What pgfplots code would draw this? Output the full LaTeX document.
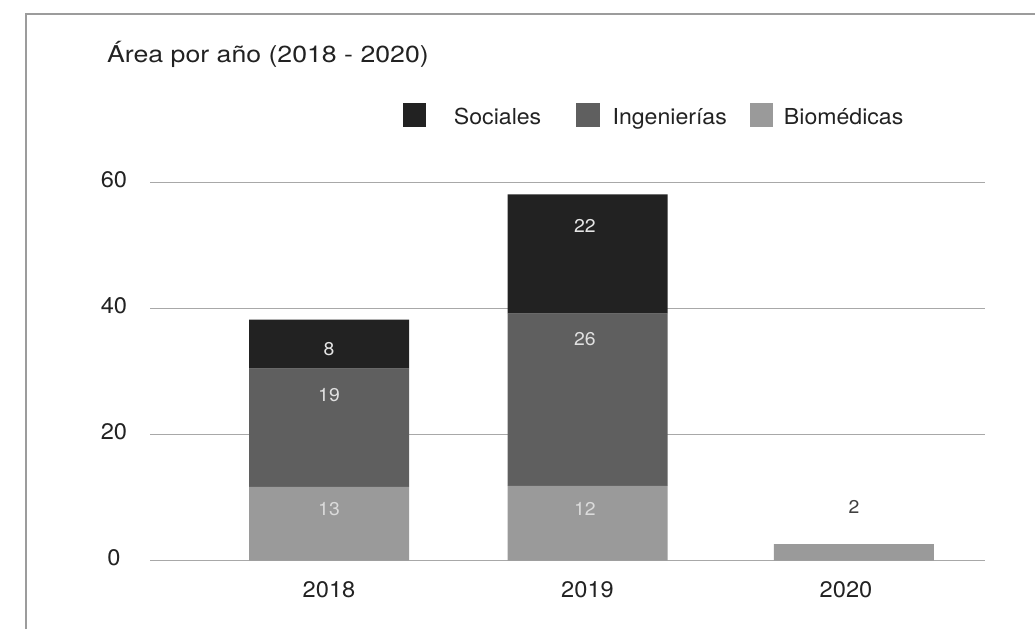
\documentclass[border=0pt]{standalone}
\usepackage{fontspec}
\setmainfont{TeX Gyre Heros}[FakeStretch=1.05]
\newfontfamily\titlefont{TeX Gyre Heros}[FakeStretch=1.15]
\usepackage{pgfplots}
\pgfplotsset{compat=1.18}
\definecolor{soc}{HTML}{222222}
\definecolor{ing}{HTML}{5F5F5F}
\definecolor{bio}{HTML}{9A9A9A}
\definecolor{txt}{HTML}{222222}
\definecolor{gridc}{HTML}{A8A8A8}
\definecolor{framec}{HTML}{9C9C9C}
\pgfplotsset{
  sqleg/.style={legend image code/.code={\fill[##1] (0pt,-2pt) rectangle (23.4pt,21.4pt);}},
}
\tikzset{
  lab/.style={font=\fontsize{18.5}{22}\selectfont, inner sep=0pt},
}

\begin{document}
\begin{tikzpicture}[x=1pt,y=1pt]
\path[use as bounding box] (0,0) rectangle (1035,629);
\draw[framec, line width=1.2pt] (26,0) -- (26,615) -- (1035,615);
\begin{axis}[
  at={(150pt,68.3pt)}, anchor=south west,
  scale only axis, width=835pt, height=378pt,
  ybar stacked, bar width=160pt,
  xmin=-0.6925, xmax=2.5377, ymin=0, ymax=60,
  xtick={0,1,2}, xticklabels={2018,2019,2020},
  ytick={0,20,40,60},
  axis line style={draw=none},
  major tick length=0pt,
  ymajorgrids, grid style={gridc, line width=1.2pt},
  /pgf/number format/assume math mode=true,
  ticklabel style={font=\fontsize{22.5}{26}\selectfont, text=txt},
  yticklabel style={anchor=center, xshift=-36pt, yshift=3pt},
  xticklabel style={anchor=center, yshift=-28.5pt},
  title={\titlefont Área por año (2018 - 2020)},
  title style={at={(-0.0515,1.3016)}, anchor=base west, inner sep=0pt,
    font=\fontsize{23.2}{28}\selectfont, text=txt},
  legend style={draw=none, fill=none, inner sep=0pt, outer sep=0pt,
    legend columns=3, column sep=0pt,
    at={(0.3025,1.1484)}, anchor=south west,
    font=\fontsize{22}{26}\selectfont, text=txt,
    nodes={inner sep=0pt, anchor=base west}},
  reverse legend,
]
% Biomedicas (bottom)
\addplot[fill=bio, draw=none, sqleg] coordinates {(0,11.72) (1,11.88) (2.03,2.65)};
\addlegendentry{\hspace*{10.8pt}Biomédicas}
% Ingenierias
\addplot[fill=ing, draw=none, sqleg] coordinates {(0,18.76) (1,27.34) (2.03,0)};
\addlegendentry{\makebox[150.2pt][l]{\hspace*{13pt}Ingenierías}}
% Sociales (top)
\addplot[fill=soc, draw=none, sqleg] coordinates {(0,7.79) (1,18.92) (2.03,0)};
\addlegendentry{\makebox[150.2pt][l]{\hspace*{28pt}Sociales}}

% anchor points for the value labels printed in the chart
\coordinate (a8)  at (axis cs:0,33.58);
\coordinate (a19) at (axis cs:0,26.25);
\coordinate (a13) at (axis cs:0,8.14);
\coordinate (b22) at (axis cs:0.99,53.2);
\coordinate (b26) at (axis cs:0.99,35.25);
\coordinate (b12) at (axis cs:0.99,8.22);
\coordinate (c2)  at (axis cs:2.031,8.46);
\end{axis}
\node[lab, text=white!90!black] at (a8) {8};
\node[lab, text=white!88!black] at (a19) {19};
\node[lab, text=white!86!black] at (a13) {13};
\node[lab, text=white!90!black] at (b22) {22};
\node[lab, text=white!88!black] at (b26) {26};
\node[lab, text=white!86!black] at (b12) {12};
\node[lab, text=black!75] at (c2) {2};
\end{tikzpicture}
\end{document}
